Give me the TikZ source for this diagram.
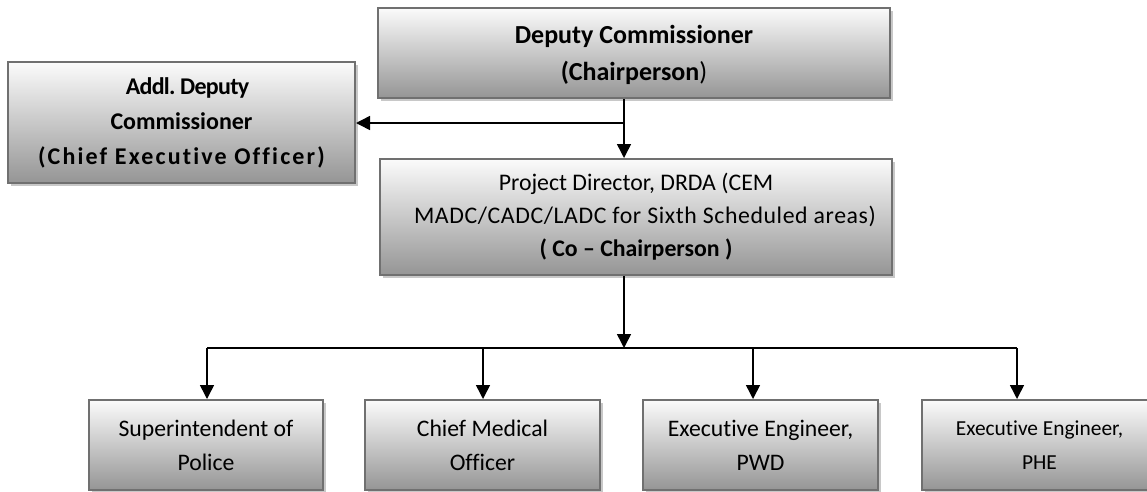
\documentclass[tikz,border=0pt]{standalone}
\usepackage{fontspec}
\setmainfont[Ligatures=NoCommon]{Carlito}
\usetikzlibrary{arrows.meta,shadows}
\definecolor{boxborder}{HTML}{707070}
\definecolor{boxtop}{HTML}{FBFBFB}
\definecolor{boxbot}{HTML}{959595}
\definecolor{shadowgray}{HTML}{C8C8C8}
\frenchspacing
\begin{document}
\begin{tikzpicture}[x=1pt,y=-1pt,
  orgbox/.style={draw=boxborder, line width=2pt, top color=boxtop, bottom color=boxbot,
    align=center, inner sep=0pt,
    drop shadow={shadow xshift=3pt, shadow yshift=-3pt, fill=shadowgray, opacity=1}},
  arr/.style={line width=1.5pt, -{Triangle[width=14pt,length=14pt]}},
  ln/.style={line width=1.5pt},
  bigbold/.style={font=\fontsize{26}{37}\selectfont\bfseries},
  midbold/.style={font=\fontsize{24}{35}\selectfont\bfseries},
  pdfont/.style={font=\fontsize{23.8}{33}\selectfont},
  lowfont/.style={font=\fontsize{23.7}{34}\selectfont},
  smallfont/.style={font=\fontsize{21.4}{34}\selectfont}]
\useasboundingbox (0,0) rectangle (1147,491);

\node[orgbox, bigbold, minimum width=512pt, minimum height=90pt, text depth=-6pt] (dc) at (634,53)
  {Deputy Commissioner\\(Chairperson{\mdseries )}};
\node[orgbox, midbold, minimum width=347pt, minimum height=121pt] (adc) at (181.5,122.5)
  {\hspace*{12pt}{\addfontfeature{LetterSpace=-3}Addl. Deputy}\\Commissioner\\{\addfontfeature{LetterSpace=9}(Chief Executive Officer)}};
\node[orgbox, pdfont, minimum width=512pt, minimum height=116pt] (pd) at (636,217)
  {Project Director, DRDA (CEM\\\hspace*{18pt}{\addfontfeature{LetterSpace=2.5}MADC/CADC/LADC for Sixth Scheduled areas)}\\\textbf{( Co – Chairperson )}};

\node[orgbox, lowfont, minimum width=234pt, minimum height=90pt] (sp) at (206,445)
  {Superintendent of\\Police};
\node[orgbox, lowfont, minimum width=235pt, minimum height=90pt] (cmo) at (482.5,445)
  {Chief Medical\\Officer};
\node[orgbox, lowfont, minimum width=235pt, minimum height=90pt] (pwd) at (760.5,445)
  {Executive Engineer,\\PWD};
\node[orgbox, smallfont, minimum width=235pt, minimum height=90pt] (phe) at (1039.5,445)
  {Executive Engineer,\\PHE};

\coordinate (j1) at (624,123);
\coordinate (j2) at (624,348);
\draw[ln] (dc.south -| j1) -- (j1);
\draw[arr] (j1) -- (j1 |- pd.north);
\draw[arr] (j1) -- (adc.east |- j1);
\draw[arr] (pd.south -| j2) -- (j2);

\coordinate (b1) at (207,348);
\coordinate (b2) at (483,348);
\coordinate (b3) at (753,348);
\coordinate (b4) at (1017,348);
\draw[ln] (b1) -- (b4);
\draw[arr] (b1) -- (b1 |- sp.north);
\draw[arr] (b2) -- (b2 |- cmo.north);
\draw[arr] (b3) -- (b3 |- pwd.north);
\draw[arr] (b4) -- (b4 |- phe.north);
\end{tikzpicture}
\end{document}
